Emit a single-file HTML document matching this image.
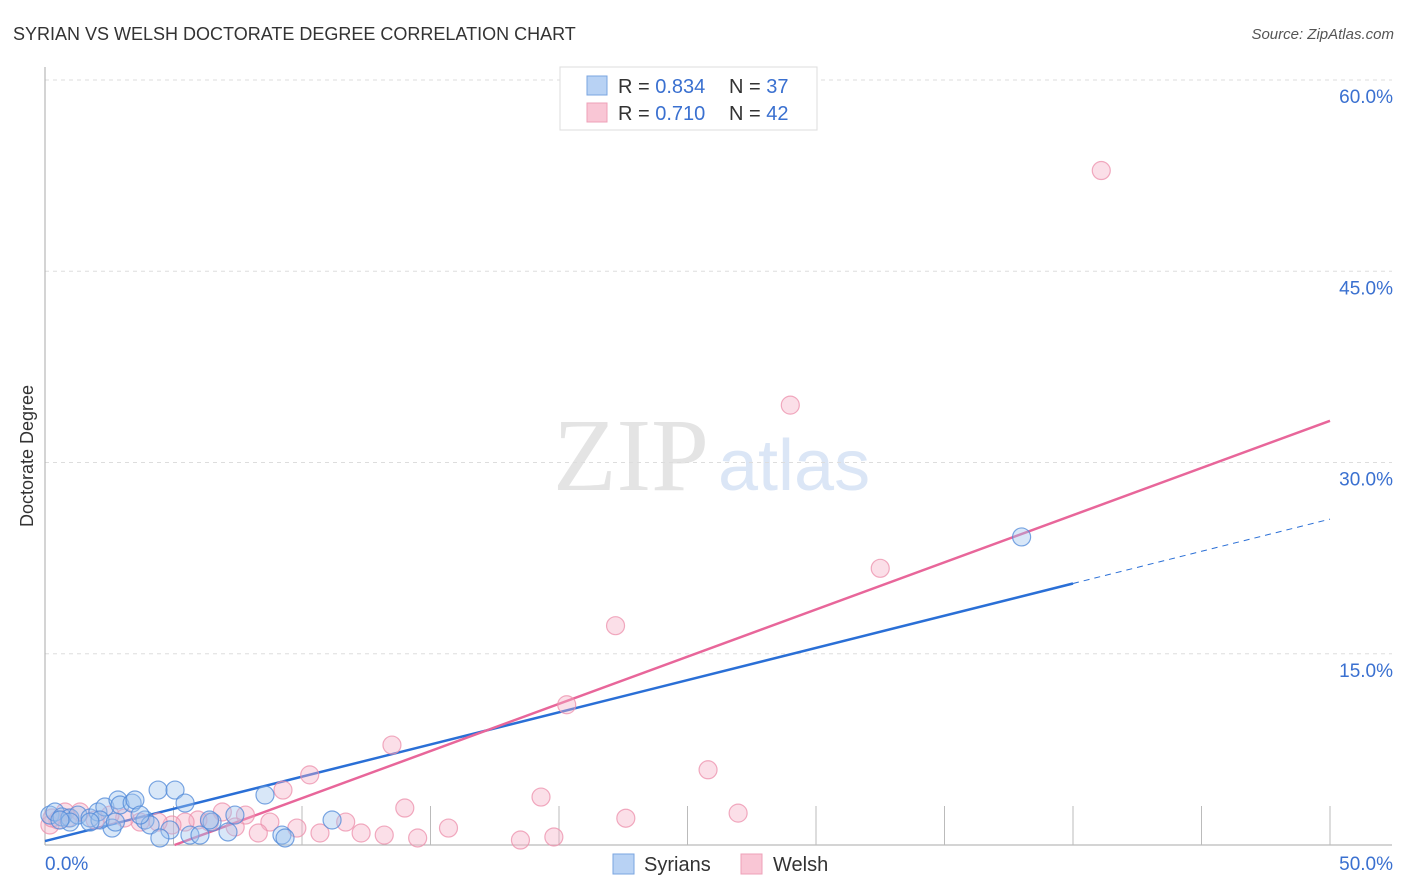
<!DOCTYPE html>
<html><head><meta charset="utf-8">
<style>
body{margin:0;background:#fff;font-family:"Liberation Sans",sans-serif;}
svg{display:block}
</style></head><body>
<svg id="chart" width="1406" height="892" xmlns="http://www.w3.org/2000/svg">
<text x="13" y="40" font-size="18" fill="#333" font-family="Liberation Sans, sans-serif">SYRIAN VS WELSH DOCTORATE DEGREE CORRELATION CHART</text>
<text x="1394" y="39" font-size="15" fill="#555" text-anchor="end" font-style="italic">Source: ZipAtlas.com</text>
<g>
<text x="553" y="490" font-size="104" font-family="Liberation Serif, serif" fill="#e4e4e4">ZIP</text>
<text x="718" y="490" font-size="72" fill="#dbe6f6">atlas</text>
</g>
<g id="grid"></g>
<g id="axes"></g>
<g id="lines"></g>
<g id="points"></g>
<text transform="translate(33,456) rotate(-90)" font-size="18" fill="#333" text-anchor="middle">Doctorate Degree</text>
<g>
<rect x="560" y="67" width="257" height="63" fill="#fff" stroke="#ddd"/>
<rect x="587" y="76" width="20" height="19" fill="#b8d2f4" stroke="#7aa5e0"/>
<rect x="587" y="103" width="20" height="19" fill="#f9c6d5" stroke="#eea0b8"/>
<text x="618" y="93" font-size="20" fill="#333">R = <tspan fill="#3a70d0">0.834</tspan></text>
<text x="729" y="93" font-size="20" fill="#333">N = <tspan fill="#3a70d0">37</tspan></text>
<text x="618" y="120" font-size="20" fill="#333">R = <tspan fill="#3a70d0"> 0.710</tspan></text>
<text x="729" y="120" font-size="20" fill="#333">N = <tspan fill="#3a70d0">42</tspan></text>
</g>
<g>
<rect x="613" y="854" width="21" height="20" fill="#b8d2f4" stroke="#7aa5e0"/>
<text x="644" y="871" font-size="20" fill="#333">Syrians</text>
<rect x="741" y="854" width="21" height="20" fill="#f9c6d5" stroke="#eea0b8"/>
<text x="773" y="871" font-size="20" fill="#333">Welsh</text>
</g>
</svg>
<script>
const yTicks=[15,30,45,60];
const yTickLabels=["15.0%","30.0%","45.0%","60.0%"];
const xTicks=[5,10,15,20,25,30,35,40,45,50];
const syriansX=[0.19,0.39,0.66,0.97,1.28,1.75,2.06,2.33,2.61,2.84,2.92,3.39,3.5,3.89,4.09,4.4,4.86,5.06,5.45,5.64,6.03,6.5,7.12,7.39,8.56,9.22,9.34,11.17,38.0,4.47,0.97,0.58,2.14,3.7,2.74,6.4,1.75];
const syriansY=[2.35,2.59,2.2,2.12,2.35,2.12,2.59,2.98,1.33,3.53,3.14,3.29,3.53,1.96,1.57,4.31,1.18,4.31,3.29,0.78,0.78,1.8,1.02,2.35,3.92,0.78,0.55,1.96,24.16,0.55,1.8,1.96,1.96,2.35,1.8,1.96,1.8];
const welshX=[41.1,29.0,32.5,22.2,20.3,13.5,10.3,25.8,19.3,14.0,26.97,22.6,15.7,9.26,19.8,18.5,14.5,13.2,12.3,11.7,10.7,9.8,8.75,8.3,7.8,7.4,6.9,6.4,5.95,5.45,4.94,4.4,3.7,3.1,2.53,1.95,1.36,0.89,0.5,0.19,0.78,0.27];
const welshY=[52.9,34.5,21.7,17.2,11.0,7.84,5.5,5.9,3.76,2.9,2.5,2.1,1.33,4.31,0.63,0.39,0.55,0.78,0.94,1.8,0.94,1.33,1.8,0.94,2.35,1.41,2.59,1.8,1.96,1.8,1.57,1.8,1.8,2.12,2.35,1.96,2.59,2.12,1.96,1.57,2.59,2.12];
const syriansFit=[0.31,0.505];
const welshFit=[-3.73,0.74];
const X0=45,X1=1330,Y0=845,YS=12.75;
const sx=v=>X0+v*(X1-X0)/50, sy=v=>Y0-v*YS;
const NS="http://www.w3.org/2000/svg";
function mk(tag,attrs,parent){const e=document.createElementNS(NS,tag);for(const k in attrs)e.setAttribute(k,attrs[k]);parent.appendChild(e);return e;}
const grid=document.getElementById('grid'),axes=document.getElementById('axes'),lines=document.getElementById('lines'),pts=document.getElementById('points');
yTicks.forEach((t,i)=>{
 const l=mk('line',{x1:45,x2:1392,y1:sy(t),y2:sy(t),stroke:'#ddd','stroke-dasharray':'4,4'},grid);
 
 
 const tx=mk('text',{x:1393,y:sy(t)+23,'font-size':19,fill:'#3a70d0','text-anchor':'end'},grid);
 tx.textContent=yTickLabels[i];
 
 
});
const ya=mk('line',{x1:45,x2:45,y1:67,y2:845,stroke:'#aaa'},axes);


const xa=mk('line',{x1:45,x2:1392,y1:845,y2:845,stroke:'#aaa'},axes);


xTicks.forEach(t=>{
 const l=mk('line',{x1:sx(t),x2:sx(t),y1:806,y2:845,stroke:'#bbb'},axes);
 
 
});
const xl0=mk('text',{x:45,y:870,'font-size':19,fill:'#3a70d0'},axes);xl0.textContent='0.0%';


const xl1=mk('text',{x:1393,y:870,'font-size':19,fill:'#3a70d0','text-anchor':'end'},axes);xl1.textContent='50.0%';


function dots(xs,ys,fill,stroke,name){xs.forEach((x,i)=>{
 const c=mk('circle',{cx:sx(x),cy:sy(ys[i]),r:9,fill:fill,'fill-opacity':0.4,stroke:stroke,'stroke-opacity':0.75,'stroke-width':1.2},pts);
 
 
});}
dots(welshX,welshY,'#f5b0c5','#ec8fab','welsh-point');
dots(syriansX,syriansY,'#9ec2ee','#4f88d8','syrians-point');
const b1=mk('line',{x1:sx(0),y1:sy(syriansFit[0]),x2:sx(40),y2:sy(syriansFit[0]+40*syriansFit[1]),stroke:'#2a6fd6','stroke-width':2.5},lines);


const b2=mk('line',{x1:sx(40),y1:sy(syriansFit[0]+40*syriansFit[1]),x2:sx(50),y2:sy(syriansFit[0]+50*syriansFit[1]),stroke:'#2a6fd6','stroke-width':1,'stroke-dasharray':'6,5'},lines);


const xs0=-welshFit[0]/welshFit[1];
const p1=mk('line',{x1:sx(xs0),y1:sy(0),x2:sx(50),y2:sy(welshFit[0]+50*welshFit[1]),stroke:'#e8669a','stroke-width':2.5},lines);


</script>
</body></html>
